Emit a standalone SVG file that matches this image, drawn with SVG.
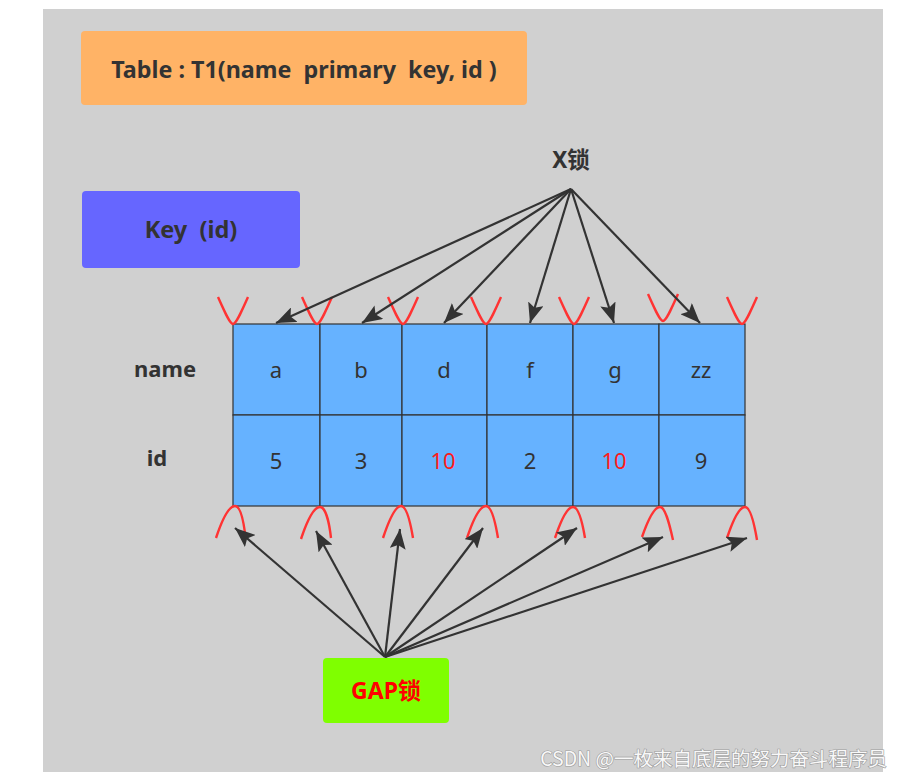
<svg xmlns="http://www.w3.org/2000/svg" width="903" height="779" viewBox="0 0 903 779">
<defs>
<style>
.bold{font-family:"Noto Sans","Open Sans","Noto Sans CJK SC",sans-serif;font-weight:bold;fill:#333;text-anchor:middle;dominant-baseline:central}
.cell{fill:#66B2FF;stroke:#333;stroke-width:1.2}
.val{font-family:"Noto Sans","Open Sans",sans-serif;font-size:22px;fill:#333;text-anchor:middle;dominant-baseline:central}
.red{fill:#FF1A1A}
.conn{stroke:#333;stroke-width:2.2;fill:none;marker-end:url(#ah)}
.lock{stroke:#FF3333;stroke-width:2.4;fill:none}
</style>
<marker id="ah" markerUnits="userSpaceOnUse" markerWidth="22" markerHeight="16" refX="20" refY="8" orient="auto">
<path d="M0,0 L20,8 L0,16 L4,8 Z" fill="#333"/>
</marker>
</defs>
<rect x="43" y="9" width="840" height="763" fill="#D0D0D0"/>

<g id="table-title">
<rect x="81" y="31" width="446" height="74" rx="4" fill="#FFB366"/>
<text class="bold" x="304" y="69" font-size="23.3" xml:space="preserve">Table : T1(name  primary  key, id )</text>
</g>
<g id="key-box">
<rect x="82" y="191" width="218" height="77" rx="4" fill="#6666FF"/>
<text class="bold" x="191" y="229" font-size="23.5" xml:space="preserve">Key  (id)</text>
</g>
<g id="x-lock">
<text class="bold" x="571" y="159" font-size="22.5">X锁</text>
</g>
<g id="row-labels">
<text class="bold" x="165" y="368" font-size="22">name</text>
<text class="bold" x="157" y="457" font-size="22">id</text>
</g>

<g id="table">
<rect class="cell" x="233" y="324" width="87" height="91"/>
<rect class="cell" x="320" y="324" width="82" height="91"/>
<rect class="cell" x="402" y="324" width="85" height="91"/>
<rect class="cell" x="487" y="324" width="86" height="91"/>
<rect class="cell" x="573" y="324" width="86" height="91"/>
<rect class="cell" x="659" y="324" width="86" height="91"/>
<rect class="cell" x="233" y="415" width="87" height="91"/>
<rect class="cell" x="320" y="415" width="82" height="91"/>
<rect class="cell" x="402" y="415" width="85" height="91"/>
<rect class="cell" x="487" y="415" width="86" height="91"/>
<rect class="cell" x="573" y="415" width="86" height="91"/>
<rect class="cell" x="659" y="415" width="86" height="91"/>
<text class="val" x="276" y="369">a</text>
<text class="val" x="361" y="369">b</text>
<text class="val" x="444" y="369">d</text>
<text class="val" x="530" y="369">f</text>
<text class="val" x="615" y="369">g</text>
<text class="val" x="701" y="369">zz</text>
<text class="val" x="276" y="460">5</text>
<text class="val" x="361" y="460">3</text>
<text class="val red" x="443" y="460">10</text>
<text class="val" x="530" y="460">2</text>
<text class="val red" x="614" y="460">10</text>
<text class="val" x="701" y="460">9</text>
</g>

<g id="record-locks">
<path class="lock" d="M218,297 C226,315 230,324 233,324 C236,324 240,315 248,297"/>
<path class="lock" d="M302,297 C310,315 314,324 317,324 C320,324 324,315 332,297"/>
<path class="lock" d="M388,297 C396,315 400,324 403,324 C406,324 410,315 418,297"/>
<path class="lock" d="M471,297 C479,315 483,324 486,324 C489,324 493,315 501,297"/>
<path class="lock" d="M559,297 C567,315 571,324 574,324 C577,324 581,315 589,297"/>
<path class="lock" d="M648,294 C656,312 660,321 663,321 C666,321 670,312 678,294"/>
<path class="lock" d="M727,297 C735,315 739,324 742,324 C745,324 749,315 757,297"/>
</g>

<g id="gap-locks">
<path class="lock" d="M216,538 C224,514 230,506 235,506 C240,506 243,518 245,533"/>
<path class="lock" d="M301,539 C309,515 315,507 320,507 C325,507 329,520 331,538"/>
<path class="lock" d="M383,538 C391,514 397,506 401,506 C406,506 410,520 413,538"/>
<path class="lock" d="M467,538 C475,514 481,506 486,506 C491,506 495,520 498,538"/>
<path class="lock" d="M555,538 C563,514 569,507 573,507 C578,507 582,520 585,538"/>
<path class="lock" d="M642,537 C650,514 656,507 660,507 C665,507 669,522 673,540"/>
<path class="lock" d="M727,538 C735,514 741,507 745,507 C750,507 754,522 757,540"/>
</g>

<g id="connectors">
<line class="conn" x1="571" y1="189" x2="276" y2="323"/>
<line class="conn" x1="571" y1="189" x2="362" y2="323"/>
<line class="conn" x1="571" y1="189" x2="444" y2="323"/>
<line class="conn" x1="571" y1="189" x2="530" y2="323"/>
<line class="conn" x1="571" y1="189" x2="614" y2="323"/>
<line class="conn" x1="571" y1="189" x2="700" y2="323"/>
<line class="conn" x1="385" y1="657" x2="235" y2="528"/>
<line class="conn" x1="385" y1="657" x2="316" y2="531"/>
<line class="conn" x1="385" y1="657" x2="400" y2="529"/>
<line class="conn" x1="385" y1="657" x2="483" y2="528"/>
<line class="conn" x1="385" y1="657" x2="577" y2="528"/>
<line class="conn" x1="385" y1="657" x2="663" y2="537"/>
<line class="conn" x1="385" y1="657" x2="747" y2="538"/>
</g>

<g id="gap-lock">
<rect x="323" y="658" width="126" height="65" rx="4" fill="#7FFF00"/>
<text class="bold" x="386" y="690" font-size="23" style="fill:#FF0000">GAP锁</text>
</g>

<text x="887" y="766" text-anchor="end" font-family="'Noto Sans CJK SC','Noto Sans',sans-serif" font-size="19.5" fill="#f8f8f8" stroke="#9a9a9a" stroke-width="1.2" paint-order="stroke">CSDN @一枚来自底层的努力奋斗程序员</text>
</svg>
